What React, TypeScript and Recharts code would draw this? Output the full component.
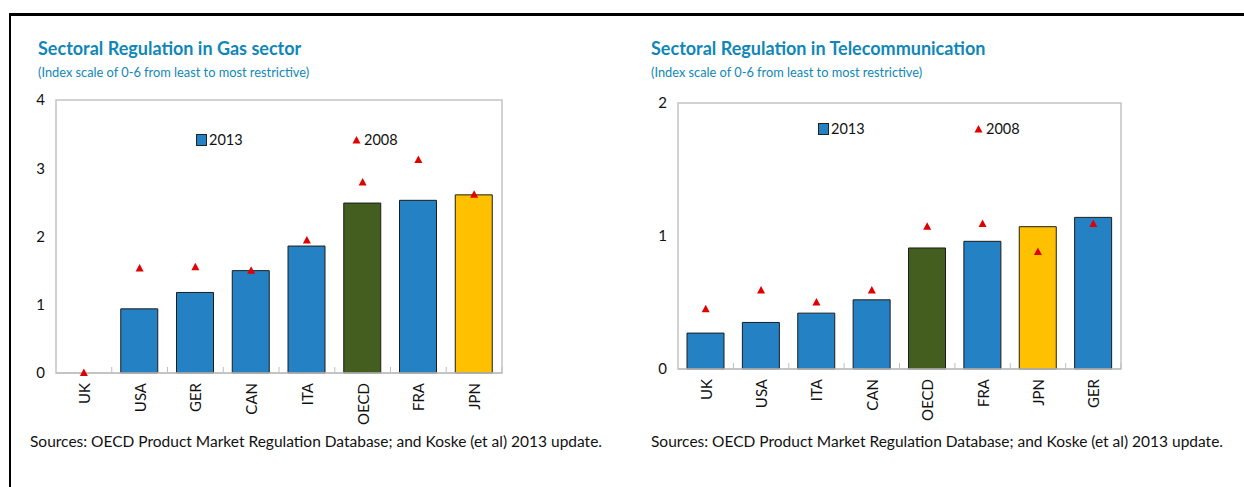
import React from 'react';
import { ComposedChart, Bar, Line, XAxis, YAxis, Cell, ReferenceArea } from 'recharts';

// Gas sector panel
const gasCountries = ['UK', 'USA', 'GER', 'CAN', 'ITA', 'OECD', 'FRA', 'JPN'];
const gas2013 = [0, 0.94, 1.18, 1.5, 1.86, 2.49, 2.53, 2.61];
const gas2008 = [0, 1.53, 1.55, 1.5, 1.94, 2.79, 3.12, 2.61];
const gasTicks = [0, 1, 2, 3, 4];

// Telecom panel
const telCountries = ['UK', 'USA', 'ITA', 'CAN', 'OECD', 'FRA', 'JPN', 'GER'];
const tel2013 = [0.27, 0.35, 0.42, 0.52, 0.91, 0.96, 1.07, 1.14];
const tel2008 = [0.45, 0.59, 0.5, 0.59, 1.07, 1.09, 0.88, 1.09];
const telTicks = [0, 1, 2];

const FONT = 'Lato, "Noto Sans", sans-serif';
const TITLE_COLOR = '#0f87b8';
const BLUE = '#2481c4';
const GREEN = '#445e1f';
const YELLOW = '#ffc000';
const RED = '#e00000';

const barColor = (c: string) => (c === 'OECD' ? GREEN : c === 'JPN' ? YELLOW : BLUE);

const Triangle = (props: any) => {
  const { cx, cy } = props;
  if (cx == null || cy == null) return null;
  return <path d={`M${cx},${cy - 4.5} L${cx + 4},${cy + 3} L${cx - 4},${cy + 3} Z`} fill={RED} />;
};

const makeTick = (band: number) => (props: any) => {
  const { x, y, payload } = props;
  return (
    <g>
      <line x1={x + band / 2} x2={x + band / 2} y1={y - 10} y2={y - 16} stroke="#bfbfbf" />
      <text
        x={x}
        y={y}
        transform={`rotate(-90, ${x}, ${y})`}
        textAnchor="end"
        dominantBaseline="central"
        fontSize={15}
        fontFamily={FONT}
        fill="#111"
      >
        {payload.value}
      </text>
    </g>
  );
};

const LegendBox = ({ left, top }: { left: number; top: number }) => (
  <div
    style={{
      position: 'absolute',
      left,
      top,
      display: 'flex',
      fontFamily: FONT,
      fontSize: 14.5,
      color: '#111',
      alignItems: 'center',
    }}
  >
    <span style={{ display: 'inline-block', width: 9, height: 10, background: BLUE, border: '1px solid #222', marginRight: 2 }} />
    <span style={{ width: 143 }}>2013</span>
    <svg width={9} height={10} style={{ marginRight: 3 }}>
      <path d="M4.5,1 L8.5,8.5 L0.5,8.5 Z" fill={RED} />
    </svg>
    <span>2008</span>
  </div>
);

type PanelProps = {
  left: number;
  width: number;
  title: string;
  countries: string[];
  v2013: number[];
  v2008: number[];
  ticks: number[];
  margin: { top: number; right: number; bottom: number; left: number };
  yWidth: number;
  legendPos: { left: number; top: number };
};

const Panel = ({ left, width, title, countries, v2013, v2008, ticks, margin, yWidth, legendPos }: PanelProps) => {
  const data = countries.map((c, i) => ({ name: c, y2013: v2013[i], y2008: v2008[i] }));
  const max = ticks[ticks.length - 1];
  const band = (width - margin.left - margin.right - yWidth) / countries.length;
  const textLeft = left === 0 ? 38 : 31;
  return (
    <div style={{ position: 'absolute', left, top: 0, width, height: 487 }}>
      <div
        style={{
          position: 'absolute',
          left: textLeft,
          top: 37,
          fontFamily: FONT,
          fontWeight: 700,
          fontSize: 18,
          color: TITLE_COLOR,
          whiteSpace: 'nowrap',
        }}
      >
        {title}
      </div>
      <div
        style={{
          position: 'absolute',
          left: textLeft,
          top: 64,
          fontFamily: FONT,
          fontSize: 12.8,
          color: TITLE_COLOR,
          whiteSpace: 'nowrap',
        }}
      >
        (Index scale of 0-6 from least to most restrictive)
      </div>
      <ComposedChart width={width} height={487} data={data} margin={margin}>
        <ReferenceArea y1={0} y2={max} fill="none" stroke="#c4c4c4" strokeWidth={1.5} ifOverflow="visible" />
        <XAxis
          dataKey="name"
          height={60}
          axisLine={{ stroke: '#bfbfbf', strokeWidth: 1.5 }}
          tickLine={false}
          tickSize={0}
          tickMargin={10}
          interval={0}
          tick={makeTick(band)}
        />
        <YAxis
          width={yWidth}
          domain={[0, max]}
          ticks={ticks}
          axisLine={false}
          tickLine={false}
          tickSize={0}
          tickMargin={11}
          tick={{ fontSize: 15, fontFamily: FONT, fill: '#111' }}
        />
        <Bar dataKey="y2013" barSize={37} stroke="#1c1c1c" strokeWidth={1} isAnimationActive={false}>
          {data.map((d) => (
            <Cell key={d.name} fill={barColor(d.name)} />
          ))}
        </Bar>
        <Line dataKey="y2008" stroke="none" dot={<Triangle />} activeDot={false} isAnimationActive={false} />
      </ComposedChart>
      <LegendBox left={legendPos.left} top={legendPos.top} />
      <div
        style={{
          position: 'absolute',
          left: left === 0 ? 30 : 31,
          top: 432,
          fontFamily: FONT,
          fontSize: 15.5,
          color: '#111',
          whiteSpace: 'nowrap',
        }}
      >
        Sources: OECD Product Market Regulation Database; and Koske (et al) 2013 update.
      </div>
    </div>
  );
};

export default function App() {
  return (
    <div style={{ position: 'absolute', left: 0, top: 0, width: 1244, height: 487, background: '#fff', overflow: 'hidden' }}>
      <div style={{ position: 'absolute', left: 9, top: 13, right: 0, bottom: 0, borderTop: '3px solid #000', borderLeft: '2px solid #000' }} />
      <Panel
        left={0}
        width={620}
        title="Sectoral Regulation in Gas sector"
        countries={gasCountries}
        v2013={gas2013}
        v2008={gas2008}
        ticks={gasTicks}
        margin={{ top: 100, right: 118, bottom: 54, left: 0 }}
        yWidth={56}
        legendPos={{ left: 196, top: 131 }}
      />
      <Panel
        left={620}
        width={624}
        title="Sectoral Regulation in Telecommunication"
        countries={telCountries}
        v2013={tel2013}
        v2008={tel2008}
        ticks={telTicks}
        margin={{ top: 103, right: 123, bottom: 58, left: 0 }}
        yWidth={58}
        legendPos={{ left: 198, top: 120 }}
      />
    </div>
  );
}
